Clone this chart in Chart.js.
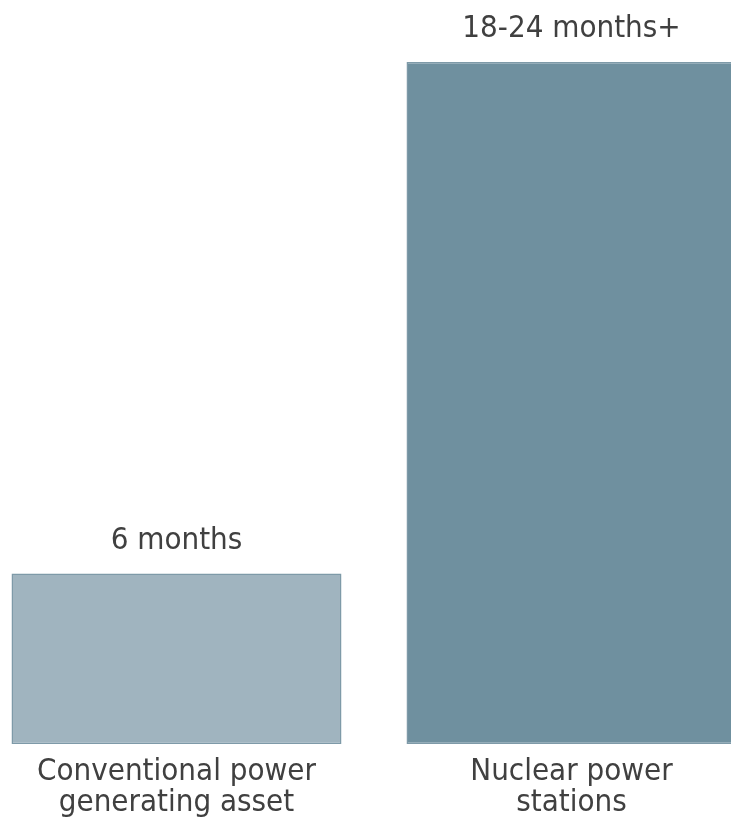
<!DOCTYPE html>
<html>
<head>
<meta charset="utf-8">
<script src="https://cdn.jsdelivr.net/npm/chart.js@4/dist/chart.umd.min.js"></script>
<style>
  html, body { margin: 0; padding: 0; background: #ffffff; overflow: hidden; }
  body { width: 731px; height: 821px; position: relative; }
  #wrap { position: absolute; left: -21px; top: 0; width: 790px; height: 821px; }
</style>
</head>
<body>
<div id="wrap"><canvas id="chart"></canvas></div>
<script>
// Outage duration by asset type (months)
const categories = [['Conventional power', 'generating asset'], ['Nuclear power', 'stations']];
const durations = [6, 24];
const durationLabels = ['6 months', '18-24 months+'];
const barColors = ['#A0B4BF', '#6F909F'];

const FONT = "'DejaVu Sans Condensed', 'DejaVu Sans', sans-serif";
const FONT_SIZE = 31;

// Writes the duration text above each bar
const valueLabelPlugin = {
  id: 'valueLabels',
  afterDatasetsDraw(chart) {
    const ctx = chart.ctx;
    const meta = chart.getDatasetMeta(0);
    ctx.save();
    ctx.font = FONT_SIZE + 'px ' + FONT;
    ctx.fillStyle = '#404040';
    ctx.textAlign = 'center';
    ctx.textBaseline = 'alphabetic';
    meta.data.forEach((bar, i) => {
      ctx.fillText(durationLabels[i], bar.x, bar.y - 25);
    });
    ctx.restore();
  }
};

new Chart(document.getElementById('chart'), {
  type: 'bar',
  data: {
    labels: categories,
    datasets: [{
      data: durations,
      backgroundColor: barColors,
      borderColor: '#7E9AA8',
      borderWidth: 1.5,
      borderSkipped: false,
      categoryPercentage: 1,
      barPercentage: 0.8354
    }]
  },
  options: {
    responsive: true,
    maintainAspectRatio: false,
    animation: false,
    layout: { padding: { top: 62, left: 0, right: 0, bottom: 0 } },
    plugins: {
      legend: { display: false },
      tooltip: { enabled: false }
    },
    scales: {
      x: {
        grid: { display: false },
        border: { display: false },
        ticks: {
          color: '#404040',
          font: { family: FONT, size: FONT_SIZE, lineHeight: 1.0 },
          maxRotation: 0,
          autoSkip: false,
          padding: 4
        },
        afterFit(scale) { scale.height = 77; }
      },
      y: {
        display: false,
        min: 0,
        max: 24
      }
    }
  },
  plugins: [valueLabelPlugin]
});
</script>
</body>
</html>
